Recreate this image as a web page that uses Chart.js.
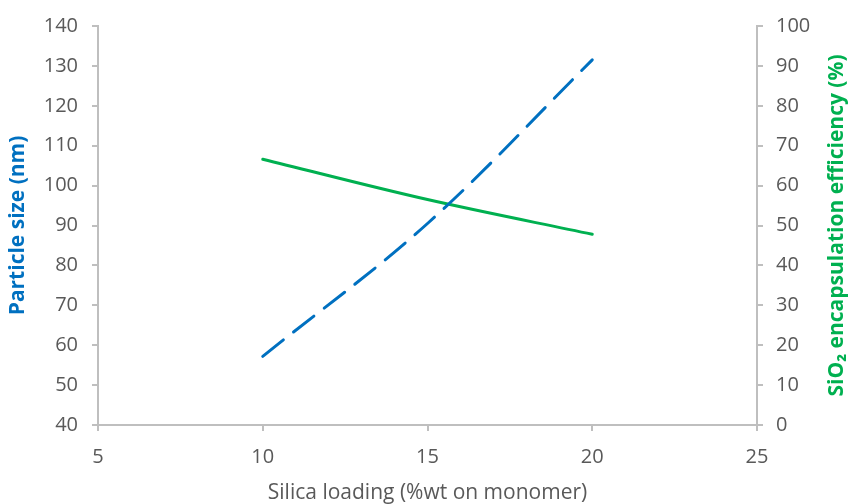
<!DOCTYPE html>
<html>
<head>
<meta charset="utf-8">
<script src="https://cdn.jsdelivr.net/npm/chart.js@4.4.0/dist/chart.umd.min.js"></script>
<style>
  html, body { margin: 0; padding: 0; background: #fff; }
  #wrap { width: 850px; height: 504px; }
</style>
</head>
<body>
<div id="wrap"><canvas id="chart" width="850" height="504"></canvas></div>
<script>
// Silica loading (%wt on monomer)
const loading = [10, 15, 20];
// Particle size (nm), left axis
const particleSize = [57.2, 90.5, 131.5];
// SiO2 encapsulation efficiency (%), right axis
const efficiency = [66.6, 56.5, 47.8];

const xTicks = [5, 10, 15, 20, 25];
const leftTicks = [40, 140, 10];   // min, max, step
const rightTicks = [0, 100, 10];

const axisGrey = '#bfbfbf';
const tickGrey = '#595959';
const blue = '#0070c0';
const green = '#00b050';
const fontFamily = '"Open Sans", Lato, sans-serif';

function toPoints(xs, ys) {
    return xs.map((x, i) => ({ x: x, y: ys[i] }));
}

// Chart.js turns a right-hand axis title the other way, so draw it
// bottom-to-top like the left one
const rightTitle = {
    id: 'rightTitle',
    afterDraw(chart) {
        const ctx = chart.ctx;
        const area = chart.chartArea;
        ctx.save();
        ctx.translate(837, (area.top + area.bottom) / 2);
        ctx.rotate(-Math.PI / 2);
        ctx.fillStyle = green;
        ctx.font = 'bold 21px ' + fontFamily;
        ctx.textAlign = 'center';
        ctx.textBaseline = 'middle';
        ctx.fillText('SiO₂ encapsulation efficiency (%)', 0, 0);
        ctx.restore();
    }
};

new Chart(document.getElementById('chart'), {
    type: 'scatter',
    data: {
        datasets: [{
            label: 'Particle size',
            data: toPoints(loading, particleSize),
            yAxisID: 'y',
            showLine: true,
            borderColor: blue,
            borderWidth: 3,
            borderDash: [26, 13],
            borderCapStyle: 'round',
            pointRadius: 0,
            tension: 0.35
        }, {
            label: 'Encapsulation efficiency',
            data: toPoints(loading, efficiency),
            yAxisID: 'y2',
            showLine: true,
            borderColor: green,
            borderWidth: 3,
            borderCapStyle: 'round',
            pointRadius: 0,
            tension: 0.35
        }]
    },
    plugins: [rightTitle],
    options: {
        responsive: false,
        animation: false,
        layout: { padding: { top: 19, right: 0, left: 0, bottom: 0 } },
        plugins: {
            legend: { display: false },
            tooltip: { enabled: false }
        },
        scales: {
            x: {
                type: 'linear',
                min: xTicks[0],
                max: xTicks[xTicks.length - 1],
                afterBuildTicks: (axis) => { axis.ticks = xTicks.map(v => ({ value: v })); },
                afterFit: (axis) => { axis.height = 79; },
                border: { color: axisGrey, width: 2 },
                grid: { drawOnChartArea: false, color: axisGrey, tickLength: 6, lineWidth: 2 },
                ticks: { color: tickGrey, font: { family: fontFamily, size: 20 }, padding: 14 },
                title: {
                    display: true,
                    text: 'Silica loading (%wt on monomer)',
                    color: tickGrey,
                    font: { family: fontFamily, size: 21 },
                    padding: { bottom: -2 }
                }
            },
            y: {
                position: 'left',
                min: leftTicks[0],
                max: leftTicks[1],
                afterFit: (axis) => { axis.width = 98; },
                border: { color: axisGrey, width: 2 },
                grid: { drawOnChartArea: false, color: axisGrey, tickLength: 6, lineWidth: 2 },
                ticks: { stepSize: leftTicks[2], color: tickGrey, font: { family: fontFamily, size: 20 }, padding: 14 },
                title: {
                    display: true,
                    text: 'Particle size (nm)',
                    color: blue,
                    font: { family: fontFamily, size: 21, weight: 'bold' },
                    padding: { top: 5 }
                }
            },
            y2: {
                position: 'right',
                min: rightTicks[0],
                max: rightTicks[1],
                afterFit: (axis) => { axis.width = 93; },
                border: { color: axisGrey, width: 2 },
                grid: { drawOnChartArea: false, color: axisGrey, tickLength: 6, lineWidth: 2 },
                ticks: { stepSize: rightTicks[2], color: tickGrey, font: { family: fontFamily, size: 20 }, padding: 13 }
            }
        }
    }
});
</script>
</body>
</html>
